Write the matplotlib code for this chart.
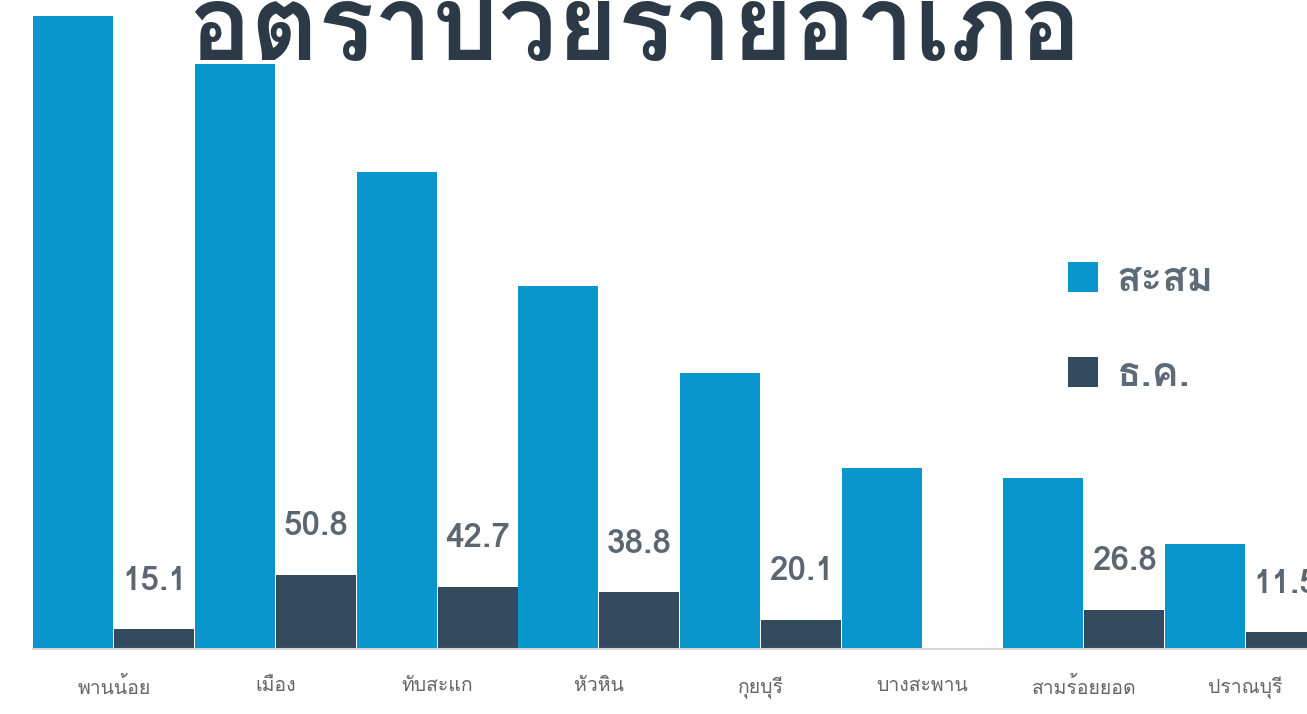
import matplotlib
matplotlib.use("Agg")
import matplotlib.pyplot as plt
from matplotlib import font_manager
from matplotlib.ft2font import FT2Font
import numpy as np

# district names and rates
districts = ["พานน้อย", "เมือง", "ทับสะแก", "หัวหิน", "กุยบุรี", "บางสะพาน", "สามร้อยยอด", "ปราณบุรี"]
cumulative = [434, 401, 327, 249, 189, 124, 117, 72]
december = [13.5, 50.8, 42.7, 38.8, 20.1, 0.8, 26.8, 11.5]
december_labels = ["15.1", "50.8", "42.7", "38.8", "20.1", "", "26.8", "11.5"]
series_names = ["สะสม", "ธ.ค."]
title = "อัตราป่วยรายอำเภอ"

blue = "#0896cc"
dark = "#344a5e"


def find_thai_fonts():
    # pick installed families that can draw Thai
    found = []
    for f in font_manager.fontManager.ttflist:
        try:
            cmap = FT2Font(f.fname).get_charmap()
        except Exception:
            continue
        if 0x0E2D in cmap and f.name not in found:
            found.append(f.name)
    return found


thai = find_thai_fonts()
families = thai + ["DejaVu Sans"]

fig = plt.figure(figsize=(13.07, 7.14), dpi=100)
ax = fig.add_axes([33 / 1307, 1 - 649 / 714, (1307 - 33) / 1307, 649 / 714])

x = np.arange(len(districts))
w = 0.495
ax.bar(x - 0.25, cumulative, w, color=blue, label=series_names[0])
ax.bar(x + 0.25, december, w, color=dark, label=series_names[1])

# value labels only on the December bars
for xi, v, lab in zip(x, december, december_labels):
    if lab:
        ax.text(xi + 0.25, v + 23, lab, ha="center", va="bottom", fontsize=24,
                fontweight="bold", color="#5b6670", family=families)

ax.set_xlim(-0.5, 7.38)
ax.set_ylim(0, 445)
ax.set_xticks(x)
ax.set_xticklabels(districts, family=families, fontsize=14, color="#666666")
ax.tick_params(axis="x", length=0, pad=20)
ax.set_yticks([])
for s in ["top", "left", "right"]:
    ax.spines[s].set_visible(False)
ax.spines["bottom"].set_color("#d8d8d8")
ax.spines["bottom"].set_linewidth(1.5)

fig.text(635 / 1307, 1 - 60 / 714, title, ha="center", va="baseline", fontsize=75,
         fontweight="bold", color="#2c3a47", family=families)

leg = ax.legend(loc="upper left", bbox_to_anchor=(1032 / 1307, 1 - 226 / 714),
                bbox_transform=fig.transFigure, frameon=False, handlelength=0.75,
                handleheight=0.75, handletextpad=0.45, labelspacing=1.45,
                prop={"family": families, "size": 29, "weight": "bold"},
                labelcolor="#5d6b78")

fig.savefig("out.png", dpi=100)
